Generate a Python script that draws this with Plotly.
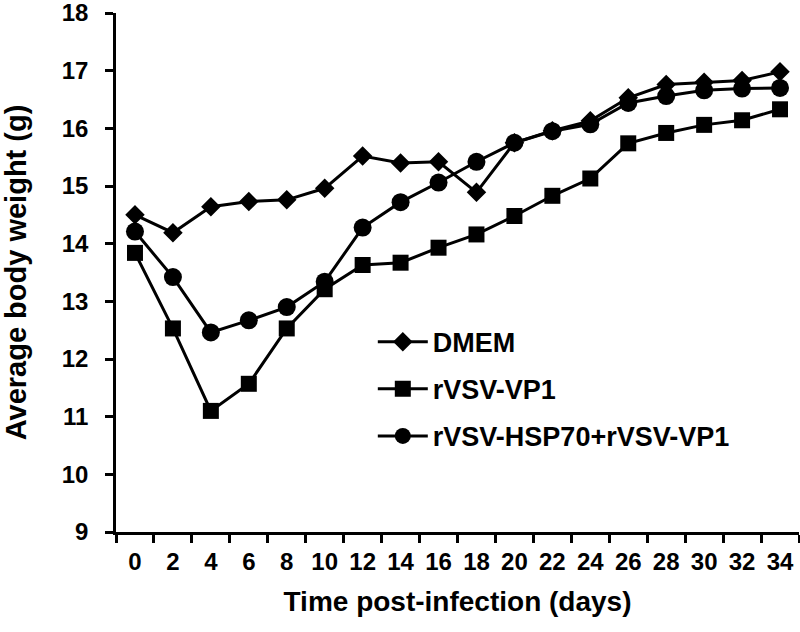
import plotly.graph_objects as go

days = ["0", "2", "4", "6", "8", "10", "12", "14", "16", "18", "20", "22", "24", "26", "28", "30", "32", "34"]
dmem = [14.50, 14.19, 14.64, 14.73, 14.76, 14.96, 15.52, 15.40, 15.42, 14.89, 15.75, 15.96, 16.13, 16.53, 16.76, 16.80, 16.83, 16.98]
vp1 = [13.84, 12.53, 11.10, 11.57, 12.53, 13.21, 13.63, 13.67, 13.93, 14.16, 14.48, 14.83, 15.13, 15.74, 15.92, 16.06, 16.14, 16.33]
hsp = [14.21, 13.42, 12.46, 12.67, 12.90, 13.34, 14.28, 14.72, 15.06, 15.42, 15.75, 15.95, 16.07, 16.44, 16.56, 16.66, 16.69, 16.70]
names = ["DMEM", "rVSV-VP1", "rVSV-HSP70+rVSV-VP1"]

FONT = "Liberation Sans, Arial, sans-serif"

fig = go.Figure()
series = [(dmem, "diamond", 15), (vp1, "square", 16), (hsp, "circle", 18)]
for (vals, sym, sz), nm in zip(series, names):
    fig.add_trace(go.Scatter(
        x=days, y=vals, name=nm, mode="lines+markers", legendgroup=nm,
        line=dict(color="black", width=3),
        marker=dict(symbol=sym, size=sz, color="black"),
    ))

fig.update_layout(
    width=800, height=632,
    margin=dict(l=116, r=1, t=13, b=100, autoexpand=False),
    paper_bgcolor="white", plot_bgcolor="white",
    font=dict(family=FONT, color="black", weight="bold"),
    showlegend=True,
    legend=dict(
        x=0.376, y=0.413, xanchor="left", yanchor="top",
        font=dict(size=27, family=FONT, weight="bold"),
        bgcolor="rgba(0,0,0,0)", tracegroupgap=9, traceorder="grouped",
        itemwidth=50,
    ),
)
fig.update_xaxes(
    type="category", range=[-0.5, 17.5],
    showline=True, linecolor="black", linewidth=2.5,
    ticks="outside", tickson="boundaries", ticklen=8, tickwidth=2.5, tickcolor="black",
    showgrid=False, zeroline=False, ticklabelstandoff=6, ticklabeloverflow="allow",
    tickfont=dict(size=24, family=FONT, weight="bold"),
    title=dict(text="Time post-infection (days)", font=dict(size=28, family=FONT, weight="bold"), standoff=18),
)
fig.update_yaxes(
    range=[9, 18], dtick=1,
    showline=True, linecolor="black", linewidth=2.5,
    ticks="outside", ticklen=8, tickwidth=2.5, tickcolor="black",
    showgrid=False, zeroline=False, ticklabelstandoff=12, ticklabeloverflow="allow",
    tickfont=dict(size=24, family=FONT, weight="bold"),
    title=dict(text="Average body weight (g)", font=dict(size=29, family=FONT, weight="bold"), standoff=39),
)

fig.write_html("out.html", config={"displayModeBar": False},
               post_script="document.body.style.margin='0';")
